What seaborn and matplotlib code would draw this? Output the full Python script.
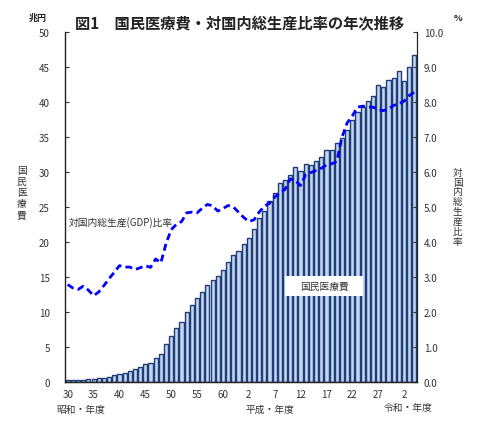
import numpy as np
import pandas as pd
import seaborn as sns
import matplotlib.pyplot as plt
from matplotlib.patches import Rectangle

# 年度 (昭和30年度 = 1955 ... 令和4年度 = 2022)
fiscal_years = list(range(1955, 2023))

# 国民医療費 (兆円)
medical_cost = [
    0.24, 0.26, 0.29, 0.32, 0.36, 0.41, 0.51, 0.61, 0.75, 0.94,   # S30-S39
    1.12, 1.30, 1.51, 1.80, 2.08, 2.50, 2.73, 3.40, 3.95, 5.38,   # S40-S49
    6.48, 7.67, 8.57, 10.00, 10.95, 11.98, 12.87, 13.87, 14.54, 15.09,  # S50-S59
    16.02, 17.07, 18.08, 18.76,                                    # S60-S63
    19.73, 20.61, 21.83, 23.48, 24.36, 25.79, 26.96, 28.45, 28.91, 29.58,  # H1-H10
    30.70, 30.14, 31.12, 30.95, 31.54, 32.11, 33.13, 33.13, 34.14, 34.81,  # H11-H20
    36.01, 37.42, 38.59, 39.21, 40.06, 40.81, 42.36, 42.14, 43.07, 43.39,  # H21-H30
    44.39, 42.97, 45.04, 46.70,                                    # R1-R4
]

# 対国内総生産比率 (%)
gdp_ratio = [
    2.78, 2.68, 2.64, 2.73, 2.62, 2.46, 2.57, 2.75, 2.95, 3.13,
    3.32, 3.28, 3.28, 3.21, 3.26, 3.32, 3.27, 3.51, 3.40, 3.95,
    4.35, 4.50, 4.58, 4.83, 4.85, 4.83, 4.96, 5.07, 5.03, 4.88,
    4.95, 5.04, 5.00, 4.85,
    4.70, 4.58, 4.63, 4.85, 5.02, 5.10, 5.28, 5.40, 5.50, 5.80,
    5.75, 5.61, 5.92, 5.98, 6.04, 6.10, 6.20, 6.23, 6.30, 6.99,
    7.40, 7.60, 7.85, 7.88, 7.85, 7.85, 7.78, 7.75, 7.80, 7.90,
    7.95, 8.02, 8.18, 8.28,
]

tick_years = [1955, 1960, 1965, 1970, 1975, 1980, 1985, 1990, 1995,
              2000, 2005, 2010, 2015, 2020]
tick_labels = ['30', '35', '40', '45', '50', '55', '60', '2', '7',
               '12', '17', '22', '27', '2']

df = pd.DataFrame({'year': fiscal_years, 'cost': medical_cost, 'ratio': gdp_ratio})
df['pos'] = np.arange(len(df))

sns.set_style('ticks')
plt.rcParams['font.family'] = ['Noto Sans CJK JP', 'DejaVu Sans']

txt = '#333333'
bar_fill = '#c2d5ee'
bar_edge = '#1f3b78'

fig, ax = plt.subplots(figsize=(4.86, 4.39), dpi=100)
fig.subplots_adjust(left=0.134, right=0.858, bottom=0.128, top=0.925)

sns.barplot(data=df, x='year', y='cost', color=bar_fill, edgecolor=bar_edge,
            linewidth=1.0, width=0.8, saturation=1, ax=ax)
ax.set_xlim(-0.5, len(df) - 0.5)
ax.set_ylim(0, 50)
ax.set_yticks(np.arange(0, 51, 5))
ax.set_xticks([fiscal_years.index(y) for y in tick_years])
ax.set_xticklabels(tick_labels)
ax.set_xlabel('')
ax.set_ylabel('')
ax.tick_params(axis='y', direction='in', length=3, pad=11, labelsize=7, colors=txt)
ax.tick_params(axis='x', length=0, pad=5, labelsize=7, colors=txt)
ax.spines['top'].set_visible(False)
for s in ['left', 'bottom']:
    ax.spines[s].set_color('#222222')
    ax.spines[s].set_linewidth(1.0)

# 対国内総生産比率 (右軸)
ax2 = ax.twinx()
sns.lineplot(data=df, x='pos', y='ratio', color='#0000ff', lw=2, ax=ax2)
ax2.lines[0].set_dashes((2.5, 1.5))
ax2.set_ylim(0, 10)
ax2.set_yticks(np.arange(0, 11, 1))
ax2.set_yticklabels([f'{v:.1f}' for v in np.arange(0, 11, 1)])
ax2.set_ylabel('')
ax2.set_xlabel('')
ax2.tick_params(axis='y', direction='in', length=3, pad=5, labelsize=7, colors=txt)
ax2.spines['top'].set_visible(False)
ax2.spines['left'].set_visible(False)
ax2.spines['right'].set_color('#222222')

# タイトル・単位
fig.text(0.492, 0.945, '図1　国民医療費・対国内総生産比率の年次推移',
         ha='center', va='center', fontsize=11, fontweight='bold', color='#222222')
fig.text(0.077, 0.958, '兆円', ha='center', va='center', fontsize=6.5,
         fontweight='bold', color='#222222')
fig.text(0.942, 0.958, '%', ha='center', va='center', fontsize=6.5,
         fontweight='bold', color='#222222')

# 縦書きの軸ラベル
fig.text(0.045, 0.56, '\n'.join('国民医療費'), ha='center', va='center',
         fontsize=7, linespacing=1.15, color=txt)
fig.text(0.942, 0.528, '\n'.join('対国内総生産比率'), ha='center', va='center',
         fontsize=7, linespacing=0.98, color=txt)

# 元号ラベル
fig.text(0.167, 0.066, '昭和・年度', ha='center', va='center', fontsize=7, color=txt)
fig.text(0.556, 0.066, '平成・年度', ha='center', va='center', fontsize=7, color=txt)
fig.text(0.84, 0.07, '令和・年度', ha='center', va='center', fontsize=7, color=txt)

# 系列ラベル
fig.text(0.249, 0.494, '対国内総生産(GDP)比率', ha='center', va='center',
         fontsize=7, color=txt)
fig.add_artist(Rectangle((285 / 486, 1 - 297 / 439), 78 / 486, 20 / 439,
                         transform=fig.transFigure, facecolor='white',
                         edgecolor='none', zorder=5))
fig.text(0.667, 0.346, '国民医療費', ha='center', va='center', fontsize=7,
         color=txt, zorder=6)

fig.savefig('out.png', dpi=100)
